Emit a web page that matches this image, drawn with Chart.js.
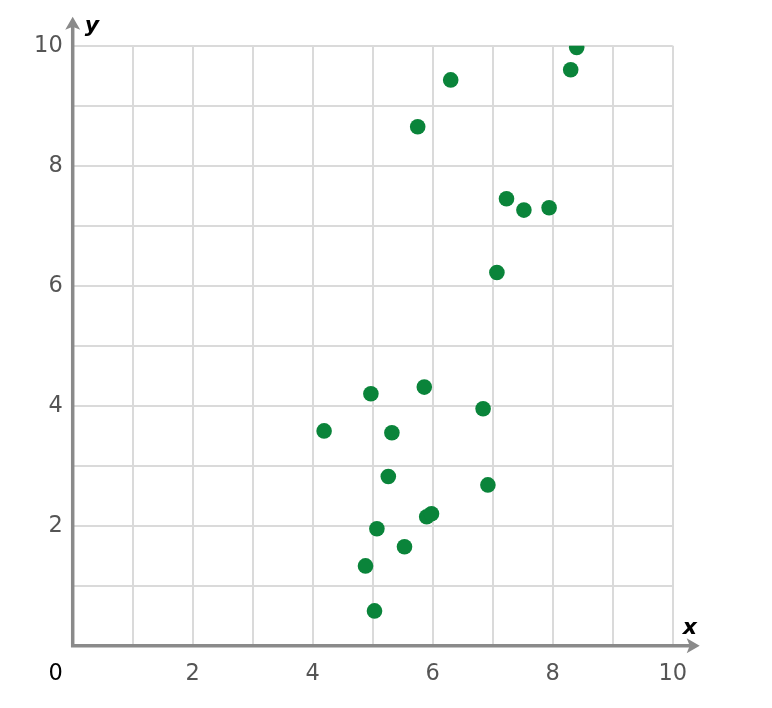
<!DOCTYPE html>
<html>
<head>
<meta charset="utf-8">
<script src="https://cdn.jsdelivr.net/npm/chart.js@4/dist/chart.umd.min.js"></script>
<style>
  html, body { margin: 0; padding: 0; background: #fff; }
  #wrap { width: 772px; height: 708px; }
</style>
</head>
<body>
<div id="wrap"><canvas id="scatterChart" width="772" height="708"></canvas></div>
<script>
// Valores
const xValues = [4.97, 5.86, 6.84, 4.19, 5.32, 5.26, 6.92, 5.90, 5.98, 5.07, 5.53, 4.88, 5.03,
                 8.40, 8.30, 6.30, 5.75, 7.23, 7.52, 7.94, 7.07];
const yValues = [4.20, 4.31, 3.95, 3.58, 3.55, 2.82, 2.68, 2.15, 2.20, 1.95, 1.65, 1.33, 0.58,
                 9.97, 9.60, 9.43, 8.65, 7.45, 7.26, 7.30, 6.22];
const tickLabels = [2, 4, 6, 8, 10];
const axisMin = 0;
const axisMax = 10;

const AXIS_COLOR = '#8a8a8a';
const GRID_COLOR = '#dadada';
const LABEL_COLOR = '#555555';
const FONT = 'Verdana, "DejaVu Sans", sans-serif';

const points = xValues.map((x, i) => ({ x: x, y: yValues[i] }));

// Eixos com setas, rótulos "x"/"y" e o zero no canto
const axesPlugin = {
  id: 'axesPlugin',
  afterDraw(chart) {
    const { ctx, scales } = chart;
    const x0 = scales.x.getPixelForValue(0);
    const y0 = scales.y.getPixelForValue(0);
    const xEnd = scales.x.getPixelForValue(axisMax) + 27;
    const yEnd = scales.y.getPixelForValue(axisMax) - 29;

    ctx.save();
    ctx.strokeStyle = AXIS_COLOR;
    ctx.fillStyle = AXIS_COLOR;
    ctx.lineWidth = 3.5;
    ctx.lineCap = 'square';

    ctx.beginPath();
    ctx.moveTo(x0, y0);
    ctx.lineTo(x0, yEnd + 8);
    ctx.moveTo(x0, y0);
    ctx.lineTo(xEnd - 8, y0);
    ctx.stroke();

    // seta y
    ctx.beginPath();
    ctx.moveTo(x0, yEnd);
    ctx.lineTo(x0 + 7.5, yEnd + 13);
    ctx.lineTo(x0, yEnd + 10);
    ctx.lineTo(x0 - 7.5, yEnd + 13);
    ctx.closePath();
    ctx.fill();
    // seta x
    ctx.beginPath();
    ctx.moveTo(xEnd, y0);
    ctx.lineTo(xEnd - 13, y0 - 7.5);
    ctx.lineTo(xEnd - 10, y0);
    ctx.lineTo(xEnd - 13, y0 + 7.5);
    ctx.closePath();
    ctx.fill();

    ctx.fillStyle = '#000';
    ctx.font = 'italic bold 22px ' + FONT;
    ctx.textAlign = 'left';
    ctx.textBaseline = 'alphabetic';
    ctx.fillText('y', x0 + 12, yEnd + 15);
    ctx.fillText('x', xEnd - 17, y0 - 12);

    ctx.font = '22.5px ' + FONT;
    ctx.textAlign = 'center';
    ctx.textBaseline = 'middle';
    ctx.fillText('0', x0 - 17, y0 + 28);
    ctx.restore();
  }
};

const ctx = document.getElementById('scatterChart').getContext('2d');
new Chart(ctx, {
  type: 'scatter',
  data: {
    datasets: [{
      data: points,
      backgroundColor: '#0a843a',
      borderColor: '#0a843a',
      pointRadius: 7.8,
      pointHoverRadius: 7.8,
      borderWidth: 0
    }]
  },
  options: {
    responsive: false,
    animation: false,
    events: [],
    layout: { padding: { top: 45.7, right: 99.3, left: 0, bottom: 0 } },
    plugins: {
      legend: { display: false },
      tooltip: { enabled: false }
    },
    scales: {
      x: {
        type: 'linear',
        min: axisMin,
        max: axisMax,
        afterFit(scale) { scale.height = 62.3; },
        border: { display: false },
        grid: { color: GRID_COLOR, lineWidth: 2, drawTicks: false },
        ticks: {
          stepSize: 1,
          padding: 15,
          color: LABEL_COLOR,
          font: { family: FONT, size: 22.5 },
          maxRotation: 0,
          autoSkip: false,
          callback: v => tickLabels.includes(v) ? String(v) : ''
        }
      },
      y: {
        type: 'linear',
        min: axisMin,
        max: axisMax,
        afterFit(scale) { scale.width = 72.7; },
        border: { display: false },
        grid: { color: GRID_COLOR, lineWidth: 2, drawTicks: false },
        ticks: {
          stepSize: 1,
          padding: 10,
          color: LABEL_COLOR,
          font: { family: FONT, size: 22.5 },
          autoSkip: false,
          callback: v => tickLabels.includes(v) ? String(v) : ''
        }
      }
    }
  },
  plugins: [axesPlugin]
});
</script>
</body>
</html>
